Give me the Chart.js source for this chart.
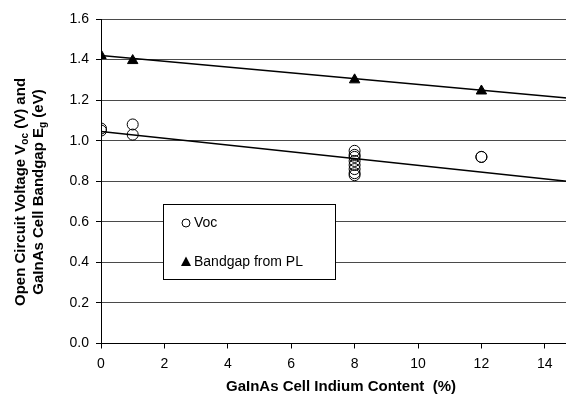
<!DOCTYPE html>
<html>
<head>
<meta charset="utf-8">
<script src="https://cdn.jsdelivr.net/npm/chart.js@4.4.0/dist/chart.umd.min.js"></script>
<style>
  html, body { margin: 0; padding: 0; background: #fff; overflow: hidden; }
  #wrap { width: 566px; height: 396px; overflow: hidden; }
</style>
</head>
<body>
<div id="wrap"><canvas id="chart" width="574" height="396"></canvas></div>
<script>
// Data
const vocX = [0, 0, 1, 1, 8, 8, 8, 8, 8, 8, 8, 8, 12, 12];
const vocY = [1.06, 1.05, 1.08, 1.03, 0.95, 0.93, 0.92, 0.90, 0.88, 0.86, 0.84, 0.83, 0.92, 0.92];
const gapX = [0, 1, 8, 12];
const gapY = [1.42, 1.395, 1.30, 1.245];
// trend line end points
const vocFitX = [0, 14.7];
const vocFitY = [1.045, 0.80];
const gapFitX = [0, 14.7];
const gapFitY = [1.42, 1.21];

const legendLabels = ["Voc", "Bandgap from PL"];
const FONT = "Liberation Sans, Arial, sans-serif";

function pts(xs, ys) {
  return xs.map((x, i) => ({ x: x, y: ys[i] }));
}

// Draw a line of text with subscript parts, centred at (0,0) of current transform
function drawRich(ctx, parts, size) {
  const subSize = Math.round(size * 0.68);
  let total = 0;
  parts.forEach(p => {
    ctx.font = "bold " + (p.sub ? subSize : size) + "px " + FONT;
    p.w = ctx.measureText(p.t).width;
    total += p.w;
  });
  let x = -total / 2;
  parts.forEach(p => {
    ctx.font = "bold " + (p.sub ? subSize : size) + "px " + FONT;
    ctx.fillText(p.t, x, p.sub ? size * 0.3 : 0);
    x += p.w;
  });
}

const titlesPlugin = {
  id: "titles",
  afterDraw(chart) {
    const ctx = chart.ctx;
    ctx.save();
    ctx.fillStyle = "#000";
    ctx.textAlign = "left";
    ctx.textBaseline = "middle";

    // y axis title, two lines
    ctx.save();
    ctx.translate(21, 192);
    ctx.rotate(-Math.PI / 2);
    drawRich(ctx, [{ t: "Open Circuit Voltage V" }, { t: "oc", sub: true }, { t: " (V) and" }], 15);
    ctx.restore();
    ctx.save();
    ctx.translate(38.5, 192);
    ctx.rotate(-Math.PI / 2);
    drawRich(ctx, [{ t: "GaInAs Cell Bandgap E" }, { t: "g", sub: true }, { t: " (eV)" }], 15);
    ctx.restore();

    // x axis title
    ctx.save();
    ctx.translate(341, 387);
    drawRich(ctx, [{ t: "GaInAs Cell Indium Content  (%)" }], 15);
    ctx.restore();

    // legend box
    const bx = 163.5, by = 204.5, bw = 172, bh = 75;
    ctx.fillStyle = "#fff";
    ctx.fillRect(bx, by, bw, bh);
    ctx.strokeStyle = "#000";
    ctx.lineWidth = 1;
    ctx.strokeRect(bx, by, bw, bh);

    // Voc entry
    ctx.beginPath();
    ctx.arc(186, 223, 4, 0, Math.PI * 2);
    ctx.stroke();
    // Bandgap entry
    ctx.fillStyle = "#000";
    ctx.beginPath();
    ctx.moveTo(186, 256.5);
    ctx.lineTo(191, 266);
    ctx.lineTo(181, 266);
    ctx.closePath();
    ctx.fill();

    ctx.font = "14px " + FONT;
    ctx.textBaseline = "middle";
    ctx.fillText(legendLabels[0], 194, 223);
    ctx.fillText(legendLabels[1], 194, 262);
    ctx.restore();
  }
};

new Chart(document.getElementById("chart"), {
  type: "scatter",
  data: {
    datasets: [
      {
        label: "Voc fit",
        data: pts(vocFitX, vocFitY),
        showLine: true,
        borderColor: "#000",
        borderWidth: 1.5,
        pointRadius: 0,
      },
      {
        label: "Bandgap fit",
        data: pts(gapFitX, gapFitY),
        showLine: true,
        borderColor: "#000",
        borderWidth: 1.5,
        pointRadius: 0,
      },
      {
        label: legendLabels[0],
        data: pts(vocX, vocY),
        pointStyle: "circle",
        pointRadius: 5.5,
        borderColor: "#000",
        borderWidth: 1,
        backgroundColor: "rgba(0,0,0,0)",
      },
      {
        label: legendLabels[1],
        data: pts(gapX, gapY),
        pointStyle: "triangle",
        pointRadius: 6,
        borderColor: "#000",
        borderWidth: 1,
        backgroundColor: "#000",
      },
    ],
  },
  options: {
    responsive: false,
    animation: false,
    devicePixelRatio: 1,
    layout: { padding: { top: 19, right: 0, left: 0, bottom: 0 } },
    plugins: {
      legend: { display: false },
      tooltip: { enabled: false },
    },
    scales: {
      x: {
        type: "linear",
        min: 0,
        max: 14.7,
        afterFit(scale) { scale.height = 52.5; },
        grid: {
          drawOnChartArea: false,
          drawTicks: true,
          tickLength: 5,
          tickColor: "#000",
        },
        border: { color: "#000", width: 1 },
        ticks: {
          stepSize: 2,
          includeBounds: false,
          padding: 7,
          color: "#000",
          font: { family: FONT, size: 14 },
          maxRotation: 0,
          callback: (v) => v,
        },
      },
      y: {
        type: "linear",
        min: 0,
        max: 1.6,
        afterFit(scale) { scale.width = 101; },
        grid: {
          color: "#4a4a4a",
          lineWidth: 1,
          drawTicks: true,
          tickLength: 5,
          tickColor: "#000",
        },
        border: { color: "#000", width: 1 },
        ticks: {
          stepSize: 0.2,
          padding: 7,
          color: "#000",
          font: { family: FONT, size: 14 },
          callback: (v) => v.toFixed(1),
        },
      },
    },
  },
  plugins: [titlesPlugin],
});
</script>
</body>
</html>
